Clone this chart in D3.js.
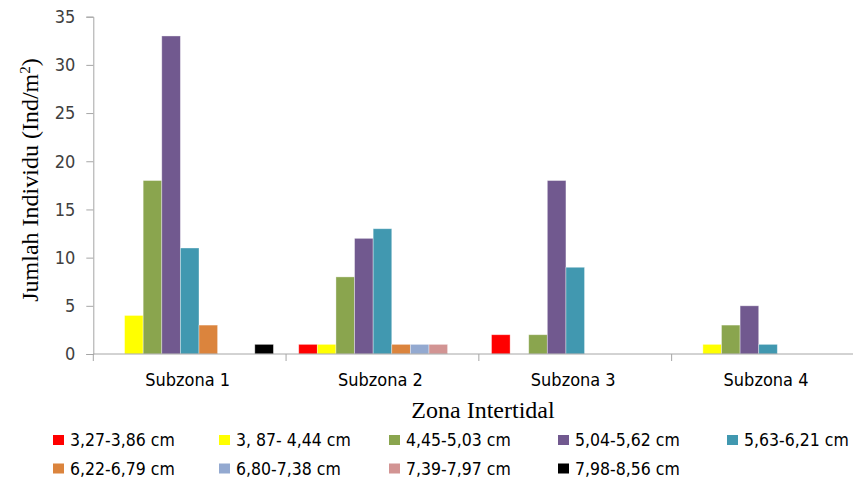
<!DOCTYPE html>
<html>
<head>
<meta charset="utf-8">
<script src="https://cdn.jsdelivr.net/npm/d3@7"></script>
<style>
  html, body { margin: 0; padding: 0; background: #fff; }
  svg { display: block; }
</style>
</head>
<body>
<svg id="chart" width="853" height="480"></svg>
<script>
// Size classes (cm) and the zones they were counted in
const categories = ["Subzona 1", "Subzona 2", "Subzona 3", "Subzona 4"];
const seriesNames = [
  "3,27-3,86 cm", "3, 87- 4,44 cm", "4,45-5,03 cm", "5,04-5,62 cm", "5,63-6,21 cm",
  "6,22-6,79 cm", "6,80-7,38 cm", "7,39-7,97 cm", "7,98-8,56 cm"
];
const seriesColors = [
  "#FF0000", "#FFFF00", "#8AA54E", "#71598F", "#4198B0",
  "#DB843D", "#93A9D0", "#D29493", "#000000"
];
// Individuals per m², one array per zone, in size-class order
const subzona1 = [0, 4, 18, 33, 11, 3, 0, 0, 1];
const subzona2 = [1, 1, 8, 12, 13, 1, 1, 1, 0];
const subzona3 = [2, 0, 2, 18, 9, 0, 0, 0, 0];
const subzona4 = [0, 1, 3, 5, 1, 0, 0, 0, 0];
const yTicks = [0, 5, 10, 15, 20, 25, 30, 35];

const values = [subzona1, subzona2, subzona3, subzona4];

const svg = d3.select("#chart");
const plotLeft = 93.3, plotRight = 864.4, plotTop = 16.7, plotBottom = 354;

const x0 = d3.scaleBand().domain(categories).range([plotLeft, plotRight]).padding(0);
const x1 = d3.scaleBand().domain(d3.range(seriesNames.length))
  .range([0, x0.bandwidth()]).paddingInner(0).paddingOuter(0.68);
const y = d3.scaleLinear().domain([0, 35]).range([plotBottom, plotTop]);

const axisColor = "#a6a6a6";
const labelFont = '"Liberation Sans Narrow", "DejaVu Sans Condensed", "Open Sans", sans-serif';
const titleFont = '"Liberation Serif", "DejaVu Serif", serif';

// Bars
const groups = svg.append("g").selectAll("g")
  .data(categories)
  .join("g")
  .attr("transform", d => `translate(${x0(d)},0)`);

groups.selectAll("rect")
  .data((c, i) => values[i].map((v, s) => ({ v, s })).filter(d => d.v > 0))
  .join("rect")
  .attr("x", d => x1(d.s))
  .attr("width", x1.bandwidth())
  .attr("y", d => y(d.v))
  .attr("height", d => y(0) - y(d.v))
  .attr("fill", d => seriesColors[d.s])
  .attr("stroke", "rgba(255,255,255,0.45)")
  .attr("stroke-width", 0.8);

// Y axis
const yAxis = svg.append("g")
  .attr("transform", `translate(${plotLeft},0)`)
  .call(d3.axisLeft(y).tickValues(yTicks).tickSize(7).tickPadding(11));
yAxis.select(".domain").attr("stroke", axisColor);
yAxis.selectAll(".tick line").attr("stroke", axisColor);
yAxis.selectAll(".tick text")
  .attr("fill", "#404040")
  .style("font-size", "18px")
  .style("font-family", labelFont);

// X axis: ticks between zones
const xAxisG = svg.append("g").attr("transform", `translate(0,${plotBottom})`);
xAxisG.append("line")
  .attr("x1", plotLeft).attr("x2", plotRight)
  .attr("stroke", axisColor);
const boundaries = categories.map(c => x0(c)).concat([plotRight]);
xAxisG.selectAll("line.tk")
  .data(boundaries)
  .join("line")
  .attr("class", "tk")
  .attr("x1", d => d).attr("x2", d => d)
  .attr("y1", 0).attr("y2", 7)
  .attr("stroke", axisColor);
xAxisG.selectAll("text")
  .data(categories)
  .join("text")
  .attr("x", d => x0(d) + x0.bandwidth() / 2 - 2)
  .attr("y", 32)
  .attr("text-anchor", "middle")
  .attr("fill", "#000")
  .style("font-size", "18px")
  .style("font-family", labelFont)
  .text(d => d);

// Axis titles
svg.append("text")
  .attr("x", 483).attr("y", 418)
  .attr("text-anchor", "middle")
  .style("font-family", titleFont)
  .style("font-size", "24px")
  .text("Zona Intertidal");

const yTitle = svg.append("text")
  .attr("transform", "translate(38,180) rotate(-90)")
  .attr("text-anchor", "middle")
  .style("font-family", titleFont)
  .style("font-size", "24px");
yTitle.append("tspan").text("Jumlah Individu (Ind/m");
yTitle.append("tspan").attr("dy", -8).style("font-size", "15px").text("2");
yTitle.append("tspan").attr("dy", 8).text(")");

// Legend
const legendCols = [53, 219, 389, 558, 727];
const legendRows = [440, 468.5];
const legend = svg.append("g").selectAll("g")
  .data(seriesNames)
  .join("g")
  .attr("transform", (d, i) => `translate(${legendCols[i % 5]},${legendRows[Math.floor(i / 5)]})`);
legend.append("rect")
  .attr("x", 0).attr("y", -5)
  .attr("width", 11).attr("height", 10)
  .attr("fill", (d, i) => seriesColors[i]);
legend.append("text")
  .attr("x", 17).attr("y", 6)
  .style("font-size", "17.5px")
  .style("font-family", labelFont)
  .attr("fill", "#000")
  .text(d => d);
</script>
</body>
</html>
